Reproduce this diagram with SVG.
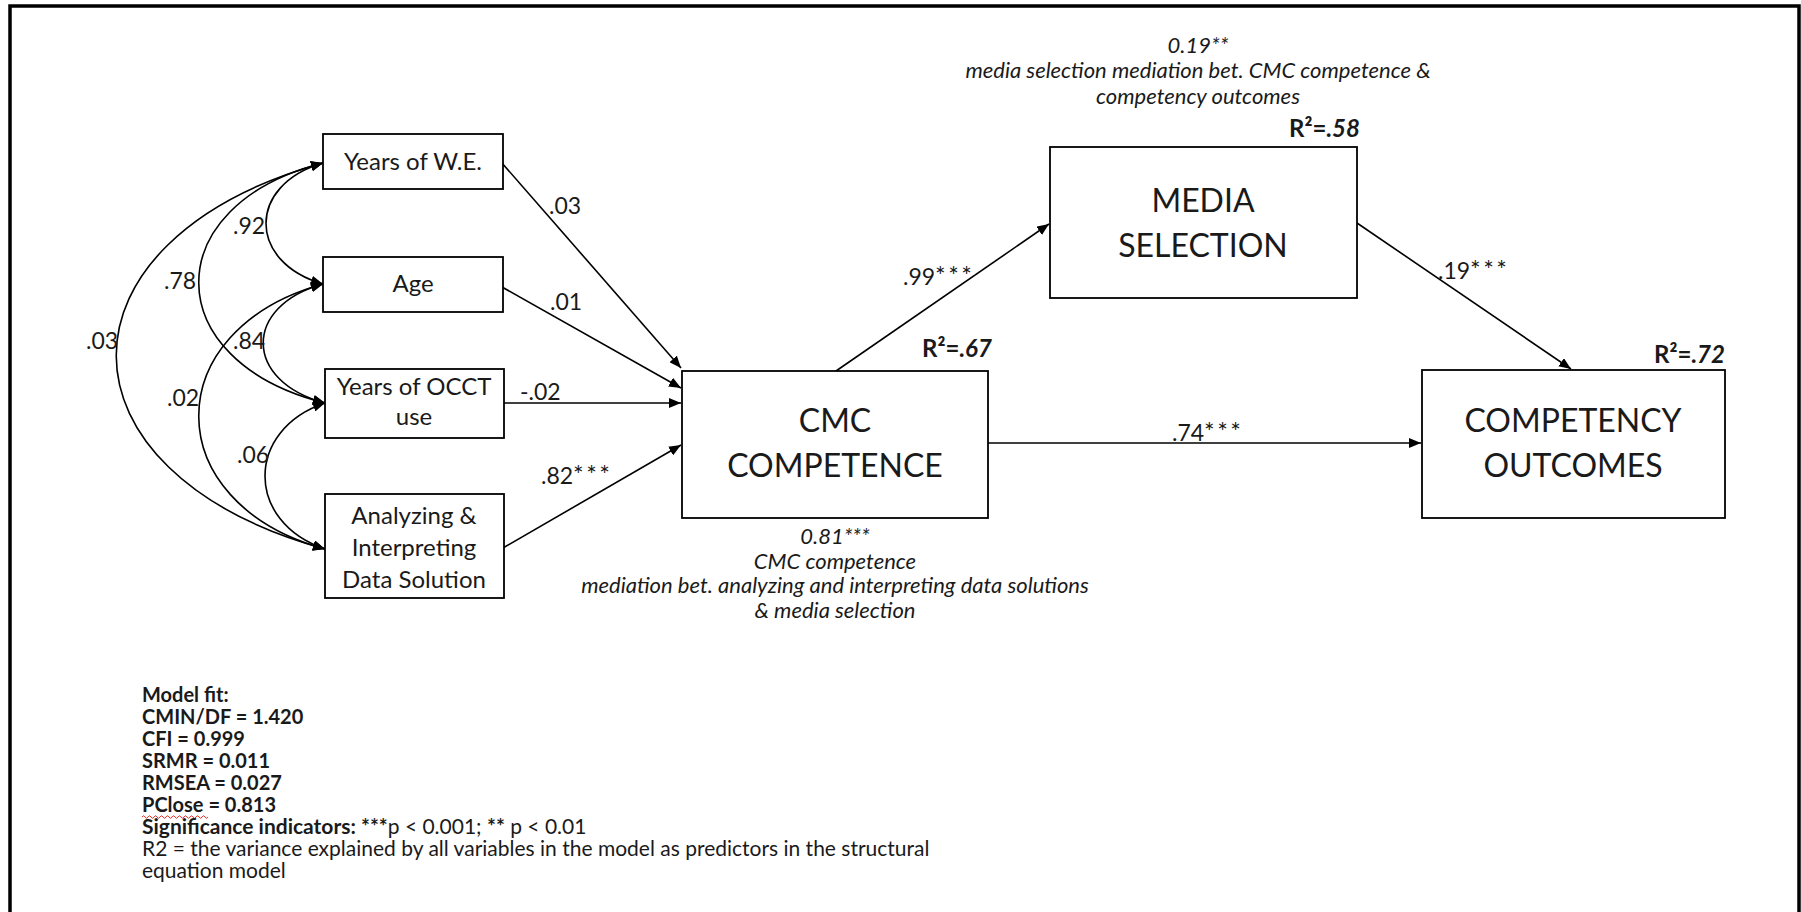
<svg xmlns="http://www.w3.org/2000/svg" width="1801" height="912" viewBox="0 0 1801 912">
  <defs>
    <!-- filled arrowhead shared by every path; reversed at the start of the correlation arcs -->
    <marker id="ah" viewBox="0 0 12 10" refX="12" refY="5" markerWidth="12" markerHeight="10" markerUnits="userSpaceOnUse" orient="auto-start-reverse">
      <path d="M0,0 L12,5 L0,10 z" fill="#000"/>
    </marker>
    <style>
      .box { fill: #fff; stroke: #000; stroke-width: 1.8; }
      .conn { fill: none; stroke: #000; stroke-width: 1.6; }
      .arr { marker-end: url(#ah); }
      .dbl { marker-start: url(#ah); marker-end: url(#ah); }
      text { font-family: Lato, "Open Sans", sans-serif; fill: #1a1a1a; }
      .ns { font-size: 24px; text-anchor: middle; }
      .nl { font-size: 32px; text-anchor: middle; }
      .lbl { font-size: 23px; }
      .ast { font-size: 25px; letter-spacing: 2.5px; }
      .r2 { font-size: 24px; font-weight: bold; }
      .note { font-size: 22px; font-style: italic; text-anchor: middle; }
      .fit { font-size: 21px; }
      .fitb { font-size: 20px; font-weight: bold; }
      .b { font-weight: bold; }
    </style>
  </defs>

  <!-- page frame (open at the bottom) -->
  <path d="M10,912 V6 H1799 V912" fill="none" stroke="#000" stroke-width="3.5"/>

  <!-- connectors -->
  <g id="connectors">
    <!-- correlations among the predictors -->
    <path class="conn dbl" d="M323,163 C247,185 247,262 323,284"/>
    <path class="conn dbl" d="M323,284 C243,306 243,381 325,403"/>
    <path class="conn dbl" d="M325,403 C245,430 245,522 325,549"/>
    <path class="conn dbl" d="M323,163 C157,205 157,361 325,403"/>
    <path class="conn dbl" d="M323,284 C157,330 157,503 325,549"/>
    <path class="conn dbl" d="M323,163 C47,240 47,472 325,549"/>
    <!-- structural paths -->
    <path class="conn arr" d="M502,163 L681,368"/>
    <path class="conn arr" d="M502,287 L681,388"/>
    <path class="conn arr" d="M503,403 L681,403"/>
    <path class="conn arr" d="M503,548 L681,445"/>
    <path class="conn arr" d="M836,371 L1049,224"/>
    <path class="conn arr" d="M988,443 L1421,443"/>
    <path class="conn arr" d="M1357,223 L1571,369"/>
  </g>

  <!-- path and correlation coefficients -->
  <g id="labels">
    <text class="lbl" x="233" y="234">.92</text>
    <text class="lbl" x="164" y="289">.78</text>
    <text class="lbl" x="86" y="349">.03</text>
    <text class="lbl" x="233" y="349">.84</text>
    <text class="lbl" x="167" y="406">.02</text>
    <text class="lbl" x="237" y="463">.06</text>
    <text class="lbl" x="549" y="214">.03</text>
    <text class="lbl" x="550" y="310">.01</text>
    <text class="lbl" x="520" y="400">-.02</text>
    <text class="lbl" x="541" y="484">.82<tspan class="ast">***</tspan></text>
    <text class="lbl" x="903" y="285">.99<tspan class="ast">***</tspan></text>
    <text class="lbl" x="1172" y="441">.74<tspan class="ast">***</tspan></text>
    <text class="lbl" x="1438" y="279">.19<tspan class="ast">***</tspan></text>
  </g>

  <g id="node-years-we">
    <rect class="box" x="323" y="134" width="180" height="55"/>
    <text class="ns" x="413" y="170">Years of W.E.</text>
  </g>
  <g id="node-age">
    <rect class="box" x="323" y="257" width="180" height="55"/>
    <text class="ns" x="413" y="292">Age</text>
  </g>
  <g id="node-occt">
    <rect class="box" x="325" y="369" width="179" height="69"/>
    <text class="ns" x="414" y="395">Years of OCCT</text>
    <text class="ns" x="414" y="425">use</text>
  </g>
  <g id="node-analyzing">
    <rect class="box" x="325" y="494" width="179" height="104"/>
    <text class="ns" x="414" y="524">Analyzing &amp;</text>
    <text class="ns" x="414" y="556">Interpreting</text>
    <text class="ns" x="414" y="588">Data Solution</text>
  </g>

  <g id="node-cmc">
    <rect class="box" x="682" y="371" width="306" height="147"/>
    <text class="nl" x="835" y="432">CMC</text>
    <text class="nl" x="835" y="477">COMPETENCE</text>
    <text class="r2" x="922" y="357">R²=<tspan font-style="italic">.67</tspan></text>
    <text class="note" x="835" y="544">0.81***</text>
    <text class="note" x="835" y="568.5">CMC competence</text>
    <text class="note" x="835" y="593">mediation bet. analyzing and interpreting data solutions</text>
    <text class="note" x="835" y="617.5">&amp; media selection</text>
  </g>

  <g id="node-media">
    <rect class="box" x="1050" y="147" width="307" height="151"/>
    <text class="nl" x="1203" y="212">MEDIA</text>
    <text class="nl" x="1203" y="257">SELECTION</text>
    <text class="r2" x="1289" y="137">R²=<tspan font-style="italic">.58</tspan></text>
    <text class="note" x="1198" y="53">0.19**</text>
    <text class="note" x="1198" y="78">media selection mediation bet. CMC competence &amp;</text>
    <text class="note" x="1198" y="104">competency outcomes</text>
  </g>

  <g id="node-outcomes">
    <rect class="box" x="1422" y="370" width="303" height="148"/>
    <text class="nl" x="1573" y="432">COMPETENCY</text>
    <text class="nl" x="1573" y="477">OUTCOMES</text>
    <text class="r2" x="1654" y="363">R²=<tspan font-style="italic">.72</tspan></text>
  </g>

  <!-- model fit notes -->
  <g id="model-fit">
    <text class="fitb" x="142" y="702">Model fit:</text>
    <text class="fitb" x="142" y="724">CMIN/DF = 1.420</text>
    <text class="fitb" x="142" y="746">CFI = 0.999</text>
    <text class="fitb" x="142" y="768">SRMR = 0.011</text>
    <text class="fitb" x="142" y="790">RMSEA = 0.027</text>
    <text class="fitb" x="142" y="812">PClose = 0.813</text>
    <path d="M142,817 q1.5,-2.5 3,0 t3,0 t3,0 t3,0 t3,0 t3,0 t3,0 t3,0 t3,0 t3,0 t3,0 t3,0 t3,0 t3,0 t3,0 t3,0 t3,0 t3,0 t3,0 t3,0 t3,0 t3,0" fill="none" stroke="#e0302a" stroke-width="1"/>
    <text class="fit" x="142" y="834"><tspan class="b">Significance indicators: ***</tspan>p &lt; 0.001; <tspan class="b">**</tspan> p &lt; 0.01</text>
    <text class="fit" x="142" y="856">R2 = the variance explained by all variables in the model as predictors in the structural</text>
    <text class="fit" x="142" y="878">equation model</text>
  </g>
</svg>
